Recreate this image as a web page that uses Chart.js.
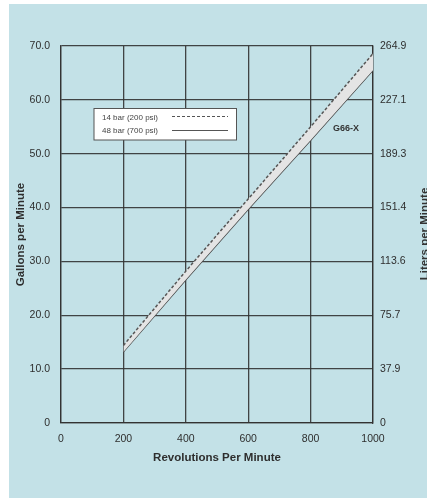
<!DOCTYPE html>
<html>
<head>
<meta charset="utf-8">
<script src="https://cdn.jsdelivr.net/npm/chart.js@4"></script>
<style>
    html, body { margin: 0; padding: 0; background: #fff; }
    #wrap { position: relative; width: 427px; height: 499px; overflow: hidden; }
    #panel { position: absolute; left: 9px; top: 4px; width: 418px; height: 494px; background: #c3e1e7; }
    #chart { position: absolute; left: 0; top: 0; }
</style>
</head>
<body>
<div id="wrap">
    <div id="panel"></div>
    <canvas id="chart" width="427" height="499"></canvas>
</div>
<script>
// values
var rpm = [200, 400, 600, 800, 1000];
var rpmTicks = ['0', '200', '400', '600', '800', '1000'];
var gpm14bar = [14.4, 28.2, 41.6, 55.0, 68.6];
var gpm48bar = [13.2, 26.6, 39.7, 52.5, 65.5];
var seriesNames = ['14 bar (200 psi)', '48 bar (700 psi)'];
var gpmTicks = ['0', '10.0', '20.0', '30.0', '40.0', '50.0', '60.0', '70.0'];
var lpmTicks = ['0', '37.9', '75.7', '113.6', '151.4', '189.3', '227.1', '264.9'];
var modelName = 'G66-X';

var FONT = '"Liberation Sans", Arial, sans-serif';
var INK = '#2e2e2e';
var GRID = 'rgba(50,50,50,0.9)';

function points(values) {
    return rpm.map(function (r, i) {
        return { x: r, y: values[i] };
    });
}

var overlay = {
    id: 'overlay',
    afterDraw: function (chart) {
        var ctx = chart.ctx;
        ctx.save();

        // legend box
        ctx.fillStyle = '#fff';
        ctx.strokeStyle = '#555';
        ctx.lineWidth = 1;
        ctx.fillRect(94, 108.5, 142.5, 31.5);
        ctx.strokeRect(94, 108.5, 142.5, 31.5);

        ctx.font = '8px ' + FONT;
        ctx.fillStyle = '#444';
        ctx.textBaseline = 'middle';
        ctx.textAlign = 'left';
        ctx.fillText(seriesNames[0], 102, 117.5);
        ctx.fillText(seriesNames[1], 102, 130.5);

        ctx.strokeStyle = '#555';
        ctx.setLineDash([3, 2]);
        ctx.beginPath();
        ctx.moveTo(172, 116.5);
        ctx.lineTo(228, 116.5);
        ctx.stroke();
        ctx.setLineDash([]);
        ctx.beginPath();
        ctx.moveTo(172, 130.5);
        ctx.lineTo(228, 130.5);
        ctx.stroke();

        // model label
        ctx.font = 'bold 9px ' + FONT;
        ctx.fillStyle = '#333';
        ctx.fillText(modelName, 333, 128.5);

        // right axis title, reads bottom to top, clipped by the edge
        ctx.translate(424.5, 234);
        ctx.rotate(-Math.PI / 2);
        ctx.textAlign = 'center';
        ctx.font = 'bold 11.5px ' + FONT;
        ctx.fillText('Liters per Minute', 0, 0);
        ctx.restore();
    }
};

new Chart(document.getElementById('chart'), {
    type: 'line',
    data: {
        datasets: [
            {
                label: seriesNames[0],
                data: points(gpm14bar),
                borderColor: '#555',
                borderWidth: 1.5,
                borderDash: [3, 2],
                backgroundColor: '#e4e4e4',
                fill: '+1',
                pointRadius: 0
            },
            {
                label: seriesNames[1],
                data: points(gpm48bar),
                borderColor: '#444',
                borderWidth: 1.4,
                fill: false,
                pointRadius: 0
            }
        ]
    },
    options: {
        responsive: false,
        animation: false,
        layout: { padding: { top: 46, left: 0, right: 0, bottom: 0 } },
        plugins: {
            legend: { display: false },
            tooltip: { enabled: false }
        },
        scales: {
            x: {
                type: 'linear',
                min: 0,
                max: 1000,
                afterBuildTicks: function (scale) {
                    scale.ticks = rpmTicks.map(function (t) { return { value: Number(t) }; });
                },
                afterFit: function (scale) { scale.height = 76; },
                grid: { color: GRID, lineWidth: 1.3, drawTicks: false },
                border: { color: GRID, width: 1.3 },
                ticks: {
                    padding: 10,
                    color: INK,
                    font: { family: FONT, size: 10.5 },
                    maxRotation: 0,
                    callback: function (value, index) { return rpmTicks[index]; }
                },
                title: {
                    display: true,
                    text: 'Revolutions Per Minute',
                    color: '#2e2e2e',
                    font: { family: FONT, size: 11.5, weight: 'bold' },
                    padding: { top: 0, bottom: 34 }
                }
            },
            y: {
                position: 'left',
                min: 0,
                max: 70,
                afterBuildTicks: function (scale) {
                    scale.ticks = gpmTicks.map(function (t, i) { return { value: i * 10 }; });
                },
                afterFit: function (scale) { scale.width = 61; },
                grid: { color: GRID, lineWidth: 1.3, drawTicks: false },
                border: { color: GRID, width: 1.3 },
                ticks: {
                    padding: 11,
                    color: INK,
                    font: { family: FONT, size: 10.5 },
                    callback: function (value, index) { return gpmTicks[index]; }
                },
                title: {
                    display: true,
                    text: 'Gallons per Minute',
                    color: '#2e2e2e',
                    font: { family: FONT, size: 11.5, weight: 'bold' },
                    padding: { top: 14, bottom: 0 }
                }
            },
            y2: {
                position: 'right',
                min: 0,
                max: 70,
                afterBuildTicks: function (scale) {
                    scale.ticks = lpmTicks.map(function (t, i) { return { value: i * 10 }; });
                },
                afterFit: function (scale) { scale.width = 54; },
                grid: { display: false, drawTicks: false },
                border: { color: GRID, width: 1.3 },
                ticks: {
                    padding: 7,
                    color: INK,
                    font: { family: FONT, size: 10.5 },
                    callback: function (value, index) { return lpmTicks[index]; }
                }
            }
        }
    },
    plugins: [overlay]
});
</script>
</body>
</html>
